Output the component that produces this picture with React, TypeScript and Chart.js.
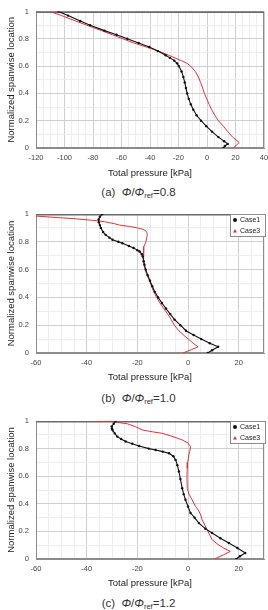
import React, { useEffect, useRef } from "react";
import { Chart, registerables } from "chart.js";

Chart.register(...registerables);

// ---------- DATA ----------
// Panel (a) Φ/Φref = 0.8
const spanA1 = [1, 0.97, 0.93, 0.9, 0.86, 0.83, 0.8, 0.77, 0.74, 0.71, 0.68, 0.66, 0.64, 0.62, 0.6, 0.56, 0.52, 0.48, 0.44, 0.4, 0.36, 0.32, 0.28, 0.24, 0.2, 0.16, 0.12, 0.08, 0.05, 0.03, 0.015, 0];
const pressA1 = [-104.4, -97.5, -89, -82, -72, -63.5, -56, -48, -40.5, -34.5, -29, -26, -23, -21, -19.8, -17.8, -16.6, -15.6, -14.8, -13.9, -12.8, -11.4, -9.6, -7.3, -4.2, -0.5, 3.5, 8, 12, 14.5, 12.5, 11.5];
const spanA3 = [1, 0.97, 0.93, 0.9, 0.86, 0.83, 0.8, 0.77, 0.74, 0.71, 0.68, 0.66, 0.64, 0.62, 0.6, 0.56, 0.52, 0.48, 0.44, 0.4, 0.36, 0.32, 0.28, 0.24, 0.2, 0.16, 0.12, 0.08, 0.04, 0.02, 0];
const pressA3 = [-110.2, -102, -92, -84.5, -74, -66.5, -59, -51.5, -42.5, -34, -27, -22.5, -18, -14, -11.5, -8.2, -6, -4.5, -3.1, -1.8, -0.2, 1.5, 3.3, 5.5, 8, 11.5, 14.5, 18, 22.6, 20.5, 18.7];

// Panel (b) Φ/Φref = 1.0
const spanB1 = [1, 0.98, 0.96, 0.94, 0.92, 0.9, 0.87, 0.85, 0.83, 0.815, 0.8, 0.79, 0.77, 0.755, 0.74, 0.73, 0.71, 0.695, 0.66, 0.635, 0.6, 0.56, 0.52, 0.48, 0.44, 0.4, 0.36, 0.32, 0.28, 0.24, 0.2, 0.16, 0.13, 0.1, 0.07, 0.045, 0.02, 0];
const pressB1 = [-33.8, -34.8, -35.3, -35.2, -34.8, -34.4, -33.5, -32.5, -31, -29.8, -27.5, -25.9, -23.3, -21.5, -20, -19.1, -18.2, -17.9, -17.5, -17.2, -16.7, -15.9, -15, -14.1, -13.1, -11.8, -10.3, -8.7, -7, -5.3, -3, -0.8, 2.2, 5.2, 8.6, 11.9, 9.5, 7.8];
const spanB3 = [0.985, 0.975, 0.965, 0.955, 0.945, 0.93, 0.92, 0.91, 0.9, 0.89, 0.88, 0.865, 0.85, 0.83, 0.8, 0.765, 0.72, 0.67, 0.62, 0.57, 0.52, 0.48, 0.44, 0.4, 0.36, 0.32, 0.28, 0.24, 0.2, 0.16, 0.12, 0.09, 0.065, 0.045, 0.025, 0];
const pressB3 = [-60, -52, -44, -38, -33, -29, -27, -23, -20, -17.8, -16.7, -16.2, -16.1, -16.3, -16.6, -17.4, -17.6, -17.5, -17.2, -16.4, -15.2, -14.4, -13.5, -12.4, -11.1, -9.6, -8, -6.6, -5.4, -3.6, -1.2, 0.8, 2.4, 4, 1.5, -2];

// Panel (c) Φ/Φref = 1.2
const spanC1 = [1, 0.98, 0.96, 0.945, 0.935, 0.91, 0.887, 0.87, 0.851, 0.835, 0.819, 0.8, 0.79, 0.778, 0.766, 0.745, 0.718, 0.68, 0.634, 0.58, 0.513, 0.47, 0.429, 0.38, 0.333, 0.3, 0.26, 0.22, 0.188, 0.15, 0.116, 0.08, 0.043, 0.02, 0];
const pressC1 = [-28.5, -29.3, -30.1, -30, -29.8, -28.9, -27.9, -26.4, -24.6, -22, -19.3, -15.5, -12.8, -10, -7.5, -5.8, -4.9, -4.2, -3.6, -3, -2.3, -1.7, -1, 0, 1, 2.6, 4.3, 6.8, 9.5, 12.8, 16.1, 19.5, 22.6, 20.5, 19];
const spanC3 = [1, 0.995, 0.98, 0.959, 0.935, 0.92, 0.911, 0.89, 0.863, 0.84, 0.814, 0.78, 0.754, 0.7, 0.658, 0.6, 0.513, 0.47, 0.429, 0.38, 0.357, 0.32, 0.284, 0.24, 0.188, 0.14, 0.11, 0.08, 0.055, 0.03, 0];
const pressC3 = [-37, -29.8, -24, -20.7, -18, -13.5, -10.2, -6.5, -2.3, 0, 1, 0.7, 0.3, -0.1, -0.3, -0.4, -0.3, 0.4, 1.6, 3, 4, 5, 5.6, 6.8, 8.2, 9.5, 11.5, 14, 16.7, 14, 10.5];

const seriesNames = ["Case1", "Case3"];
const xTitle = "Total pressure [kPa]";
const yTitle = "Normalized spanwise location";

const FONT = "'Liberation Sans', Arial, sans-serif";

function pts(xs: number[], ys: number[]) {
  return xs.map((x, i) => ({ x, y: ys[i] }));
}

const frameLegendPlugin = {
  id: "frameLegend",
  beforeDatasetsDraw(chart: any) {
    const { ctx, chartArea: a } = chart;
    ctx.save();
    ctx.strokeStyle = "#8c8c8c";
    ctx.lineWidth = 1;
    ctx.strokeRect(a.left + 0.5, a.top + 0.5, a.right - a.left - 1, a.bottom - a.top - 1);
    ctx.strokeStyle = "#6a6a6a";
    ctx.lineWidth = 1.5;
    ctx.beginPath();
    ctx.moveTo(a.left, a.top + 0.75);
    ctx.lineTo(a.right, a.top + 0.75);
    ctx.stroke();
    ctx.restore();
  },
  afterDatasetsDraw(chart: any, _args: any, opts: any) {
    if (!opts || !opts.show) return;
    const { ctx, chartArea: a } = chart;
    const w = 36, h = 23;
    const x = a.right - w + 2, y = a.top;
    ctx.save();
    ctx.fillStyle = "#ffffff";
    ctx.fillRect(x, y, w, h);
    ctx.strokeStyle = "#8c8c8c";
    ctx.lineWidth = 1;
    ctx.strokeRect(x + 0.5, y + 0.5, w - 1, h - 1);
    ctx.font = `7px ${FONT}`;
    ctx.textBaseline = "middle";
    chart.data.datasets.forEach((ds: any, i: number) => {
      const cy = y + 6 + i * 11;
      const cx = x + 5;
      ctx.fillStyle = ds.pointBackgroundColor;
      ctx.beginPath();
      if (ds.pointStyle === "triangle") {
        ctx.moveTo(cx, cy - 2);
        ctx.lineTo(cx + 2, cy + 1.5);
        ctx.lineTo(cx - 2, cy + 1.5);
        ctx.closePath();
      } else {
        ctx.arc(cx, cy, 2, 0, Math.PI * 2);
      }
      ctx.fill();
      ctx.fillStyle = "#222";
      ctx.fillText(ds.label, x + 10, cy + 0.5);
    });
    ctx.restore();
  },
};

type PanelProps = {
  top: number;
  height: number;
  padTop: number;
  xAxisH: number;
  titlePadB: number;
  xMin: number;
  xMax: number;
  c1: { x: number[]; y: number[] };
  c3: { x: number[]; y: number[] };
  legend: boolean;
};

function Panel(p: PanelProps) {
  const ref = useRef<HTMLCanvasElement | null>(null);
  useEffect(() => {
    if (!ref.current) return;
    const chart = new Chart(ref.current, {
      type: "scatter",
      data: {
        datasets: [
          {
            label: seriesNames[0],
            data: pts(p.c1.x, p.c1.y),
            showLine: true,
            borderColor: "#111111",
            borderWidth: 1.1,
            pointBackgroundColor: "#111111",
            pointBorderColor: "#111111",
            pointRadius: 1.2,
            pointBorderWidth: 0,
            pointStyle: "circle",
            tension: 0,
          },
          {
            label: seriesNames[1],
            data: pts(p.c3.x, p.c3.y),
            showLine: true,
            borderColor: "#e0323c",
            borderWidth: 1,
            pointBackgroundColor: "#e0323c",
            pointBorderColor: "#e0323c",
            pointRadius: 0,
            pointStyle: "triangle",
            tension: 0,
          },
        ],
      },
      options: {
        animation: false,
        responsive: false,
        devicePixelRatio: 1,
        layout: { padding: { top: p.padTop, right: 3, left: 0, bottom: 0 } },
        plugins: {
          legend: { display: false },
          tooltip: { enabled: false },
          frameLegend: { show: p.legend },
        } as any,
        scales: {
          x: {
            type: "linear",
            min: p.xMin,
            max: p.xMax,
            afterFit: (s: any) => {
              s.height = p.xAxisH;
              s.paddingLeft = 0;
              s.paddingRight = 0;
            },
            ticks: {
              stepSize: 5,
              autoSkip: false,
              maxRotation: 0,
              includeBounds: false,
              padding: 5,
              color: "#444",
              font: { size: 7.5, family: FONT },
              callback: (v: any) => (Math.abs(Number(v) % 20) < 1e-6 ? String(v) : ""),
            },
            grid: {
              drawTicks: false,
              color: (c: any) =>
                c.tick && Math.abs(c.tick.value % 20) < 1e-6 ? "#cfcfcf" : "#ededed",
            },
            border: { display: true, color: "#8c8c8c" },
            title: {
              display: true,
              text: xTitle,
              color: "#222",
              font: { size: 9.5, family: FONT },
              padding: { top: 0, bottom: p.titlePadB },
            },
          },
          y: {
            type: "linear",
            min: 0,
            max: 1,
            afterFit: (s: any) => {
              s.width = 36;
            },
            ticks: {
              stepSize: 0.1,
              autoSkip: false,
              padding: 7,
              color: "#444",
              font: { size: 7.5, family: FONT },
              callback: (v: any) => {
                const n = Number(v);
                const k = Math.round(n * 10);
                if (k % 2 !== 0) return "";
                if (k === 0) return "0";
                if (k === 10) return "1";
                return n.toFixed(1);
              },
            },
            grid: {
              drawTicks: false,
              color: (c: any) =>
                c.tick && Math.round(c.tick.value * 10) % 2 === 0 ? "#cfcfcf" : "#ededed",
            },
            border: { display: true, color: "#8c8c8c" },
            title: {
              display: true,
              text: yTitle,
              color: "#222",
              font: { size: 9.5, family: FONT },
              padding: { top: 6, bottom: 0 },
            },
          },
        },
      },
      plugins: [frameLegendPlugin as any],
    });
    return () => chart.destroy();
  }, []);
  return (
    <canvas
      ref={ref}
      width={268}
      height={p.height}
      style={{ position: "absolute", left: 0, top: p.top, width: 268, height: p.height }}
    />
  );
}

function Caption({ label, ratio, center }: { label: string; ratio: string; center: number }) {
  return (
    <div
      style={{
        position: "absolute",
        left: 0,
        width: 277,
        top: center - 8,
        height: 16,
        lineHeight: "16px",
        textAlign: "center",
        fontFamily: FONT,
        fontSize: 11.5,
        color: "#333",
        whiteSpace: "nowrap",
      }}
    >
      {label}&nbsp;&nbsp;<i>Φ</i>/<i>Φ</i>
      <sub style={{ fontSize: 7.5, verticalAlign: "-2px" }}>ref</sub>={ratio}
    </div>
  );
}

export default function App() {
  return (
    <div
      style={{
        position: "absolute",
        left: 0,
        top: 0,
        width: 268,
        height: 610,
        background: "#fff",
        overflow: "hidden",
      }}
    >
      <Panel
        top={0}
        height={182}
        padTop={11}
        xAxisH={34}
        titlePadB={3.3}
        xMin={-120}
        xMax={40}
        c1={{ x: pressA1, y: spanA1 }}
        c3={{ x: pressA3, y: spanA3 }}
        legend={false}
      />
      <Caption label="(a)" ratio="0.8" center={192} />
      <Panel
        top={200}
        height={185}
        padTop={14}
        xAxisH={32}
        titlePadB={2.3}
        xMin={-60}
        xMax={30}
        c1={{ x: pressB1, y: spanB1 }}
        c3={{ x: pressB3, y: spanB3 }}
        legend={true}
      />
      <Caption label="(b)" ratio="1.0" center={398} />
      <Panel
        top={407}
        height={185}
        padTop={14}
        xAxisH={33}
        titlePadB={3.3}
        xMin={-60}
        xMax={30}
        c1={{ x: pressC1, y: spanC1 }}
        c3={{ x: pressC3, y: spanC3 }}
        legend={true}
      />
      <Caption label="(c)" ratio="1.2" center={603} />
    </div>
  );
}
